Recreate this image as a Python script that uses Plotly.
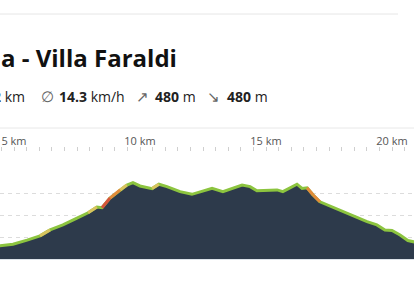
import plotly.graph_objects as go

# ---------------- data ----------------
title_text = "a - Villa Faraldi"
stat_distance = "2"
stat_speed = "14.3"
stat_up = "480"
stat_down = "480"

x_tick_km = [5, 10, 15, 20]
x_tick_text = ["5 km", "10 km", "15 km", "20 km"]
grid_elev_m = [100, 200, 300]

distance_km = [4.40, 4.96, 5.52, 6.03, 6.43, 6.94, 7.50, 7.94, 8.29, 8.49, 8.81, 9.21,
               9.48, 9.72, 10.00, 10.48, 10.75, 11.07, 11.59, 12.06, 12.38, 12.86, 13.29,
               13.57, 14.05, 14.37, 14.64, 15.44, 15.67, 16.23, 16.43, 16.63, 16.87, 17.14,
               17.66, 18.33, 18.61, 19.01, 19.40, 19.72, 20.00, 20.32, 20.63, 20.90]
elevation_m = [60, 67, 86, 105, 132, 155, 186, 210, 236, 233, 277, 314,
               336, 347, 332, 320, 340, 329, 306, 294, 306, 321, 306,
               317, 336, 329, 310, 314, 306, 340, 321, 324, 291, 260,
               235, 205, 192, 170, 155, 132, 130, 109, 84, 77]

# ---------------- layout geometry ----------------
W, H = 414, 286
PLOT_TOP, PLOT_BOTTOM = 152, 259
PH = PLOT_BOTTOM - PLOT_TOP


def py(ypx):
    return (PLOT_BOTTOM - ypx) / PH


def px(xpx):
    return xpx / W


FONT = "Open Sans"
fill_color = "#2d3a4b"
green = "#8cc43f"

fig = go.Figure()

# filled elevation area
fig.add_trace(go.Scatter(x=distance_km, y=elevation_m, mode="lines", fill="tozeroy",
                         fillcolor=fill_color, line=dict(width=0, color=fill_color),
                         hoverinfo="skip", showlegend=False))

# base green line
fig.add_trace(go.Scatter(x=distance_km, y=elevation_m, mode="lines",
                         line=dict(width=3, color=green), hoverinfo="skip", showlegend=False))

# gradient-coloured overlays
buckets = {"#d8c35e": ([], []), "#e38a3a": ([], []), "#d6553a": ([], [])}
for i in range(len(distance_km) - 1):
    dx = (distance_km[i + 1] - distance_km[i]) * 1000
    g = (elevation_m[i + 1] - elevation_m[i]) / dx * 100
    col = None
    if g >= 11:
        col = "#d6553a"
    elif g >= 9 or g <= -11:
        col = "#e38a3a"
    elif g >= 6.5:
        col = "#d8c35e"
    if col:
        xs, ys = buckets[col]
        xs += [distance_km[i], distance_km[i + 1], None]
        ys += [elevation_m[i], elevation_m[i + 1], None]
for col, (xs, ys) in buckets.items():
    if xs:
        fig.add_trace(go.Scatter(x=xs, y=ys, mode="lines", line=dict(width=3, color=col),
                                 hoverinfo="skip", showlegend=False, connectgaps=False))

x0 = 10 - 140 / 25.2
x1 = 10 + (W - 140) / 25.2

fig.update_layout(
    width=W, height=H,
    margin=dict(l=0, r=0, t=PLOT_TOP, b=H - PLOT_BOTTOM, pad=0),
    paper_bgcolor="white", plot_bgcolor="white",
    font=dict(family=FONT, color="#222"),
    xaxis=dict(range=[x0, x1], side="top", tickvals=x_tick_km, ticktext=x_tick_text,
               ticks="outside", ticklen=4, tickcolor="#cfcfcf", tickwidth=1,
               tickfont=dict(size=11, color="#555", family=FONT), ticklabelstandoff=-2,
               showgrid=False, zeroline=False, showline=False, fixedrange=True,
               minor=dict(dtick=0.5, ticks="outside", ticklen=4, tickcolor="#cfcfcf",
                          showgrid=False)),
    yaxis=dict(range=[0, PH * 100 / 22], tickvals=grid_elev_m, showticklabels=False,
               showgrid=True, gridcolor="#dcdcdc", griddash="4px,4px", gridwidth=1,
               zeroline=False, showline=False, ticks="", fixedrange=True),
    shapes=[
        dict(type="line", xref="paper", yref="paper", x0=0, x1=px(398), y0=py(14), y1=py(14),
             line=dict(color="#e6e6e6", width=1)),
        dict(type="line", xref="paper", yref="paper", x0=0, x1=1, y0=py(128), y1=py(128),
             line=dict(color="#e8e8e8", width=1)),
        dict(type="line", xref="paper", yref="paper", x0=0, x1=1, y0=py(259.5), y1=py(259.5),
             line=dict(color="#dde3ea", width=1)),
    ],
)

ann = []
ann.append(dict(text="<b>" + title_text + "</b>", x=px(-1), y=py(57), xanchor="left",
                yanchor="middle", font=dict(size=24, color="#111", family=FONT)))

val_font = dict(size=14, color="#222", family=FONT)
sym_font = dict(size=15, color="#666", family=FONT)
ann.append(dict(text="<b>" + stat_distance + "</b> km", x=px(27), y=py(96), xanchor="right",
                yanchor="middle", font=val_font))
ann.append(dict(text="∅", x=px(39), y=py(96), xanchor="left", yanchor="middle", font=sym_font))
ann.append(dict(text="<b>" + stat_speed + "</b> km/h", x=px(57), y=py(96), xanchor="left",
                yanchor="middle", font=val_font))
ann.append(dict(text="↗", x=px(134), y=py(96), xanchor="left", yanchor="middle", font=sym_font))
ann.append(dict(text="<b>" + stat_up + "</b> m", x=px(153), y=py(96), xanchor="left",
                yanchor="middle", font=val_font))
ann.append(dict(text="↘", x=px(205), y=py(96), xanchor="left", yanchor="middle", font=sym_font))
ann.append(dict(text="<b>" + stat_down + "</b> m", x=px(225), y=py(96), xanchor="left",
                yanchor="middle", font=val_font))
for a in ann:
    a.update(xref="paper", yref="paper", showarrow=False)
fig.update_layout(annotations=ann)

fig.write_html("out.html", config={"displayModeBar": False})
